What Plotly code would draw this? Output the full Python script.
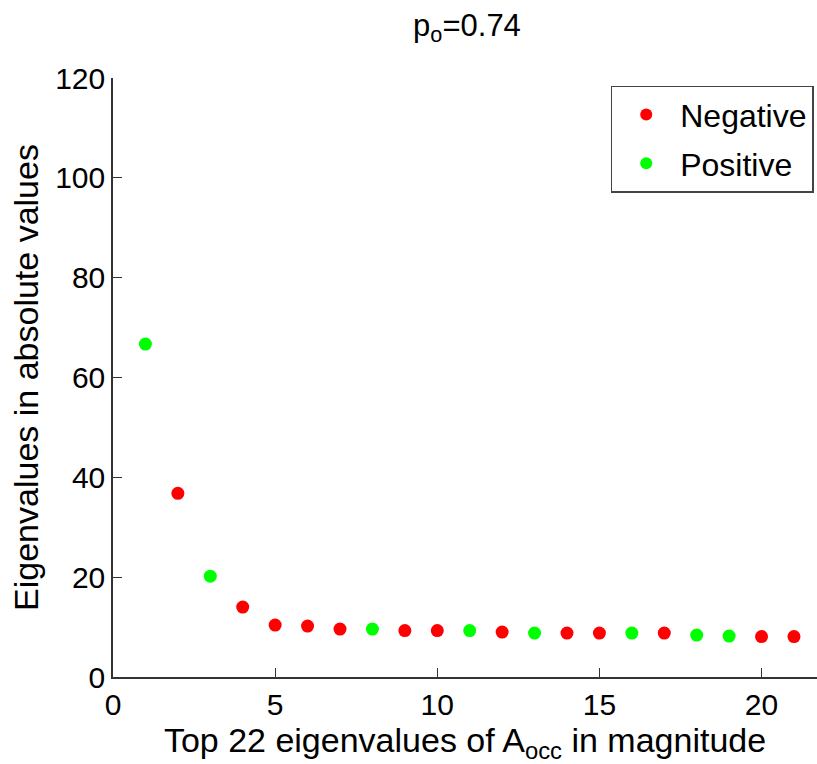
import plotly.graph_objects as go

# Top eigenvalues of A_occ ranked by magnitude, with the sign of each
rank = list(range(1, 22))
magnitude = [66.7, 36.8, 20.2, 14.0, 10.4, 10.2, 9.6, 9.6, 9.3, 9.3, 9.3,
             9.0, 8.8, 8.8, 8.8, 8.8, 8.8, 8.4, 8.2, 8.1, 8.1]
sign = ["+", "-", "+", "-", "-", "-", "-", "+", "-", "-", "+",
        "-", "+", "-", "-", "+", "-", "+", "+", "-", "-"]

x_ticks = [0, 5, 10, 15, 20]
y_ticks = [0, 20, 40, 60, 80, 100, 120]

FONT = "Liberation Sans, Arial, Helvetica, sans-serif"

neg_x = [r for r, s in zip(rank, sign) if s == "-"]
neg_y = [m for m, s in zip(magnitude, sign) if s == "-"]
pos_x = [r for r, s in zip(rank, sign) if s == "+"]
pos_y = [m for m, s in zip(magnitude, sign) if s == "+"]

fig = go.Figure()
fig.add_trace(go.Scatter(x=neg_x, y=neg_y, mode="markers", name="Negative",
                         legendgroup="neg",
                         marker=dict(color="#ff0000", size=13, line=dict(width=0))))
fig.add_trace(go.Scatter(x=pos_x, y=pos_y, mode="markers", name="Positive",
                         legendgroup="pos",
                         marker=dict(color="#00ff00", size=13, line=dict(width=0))))

axis_common = dict(
    showgrid=False, zeroline=False, showline=True, linecolor="#333333",
    linewidth=1.5, ticks="inside", ticklen=9, tickwidth=1.2,
    tickcolor="#333333", mirror=False,
    tickfont=dict(family=FONT, size=30, color="black"),
)

fig.update_layout(
    width=817, height=764,
    margin=dict(l=113, r=0, t=78, b=87),
    paper_bgcolor="white", plot_bgcolor="white",
    font=dict(family=FONT, size=30, color="black"),
    title=dict(text="p<sub>o</sub>=0.74", x=467 / 817, xanchor="center",
               y=1 - 25 / 764, yanchor="middle",
               font=dict(family=FONT, size=31, color="black")),
    xaxis=dict(range=[0, 21.71], tickvals=x_ticks,
               title=dict(text="Top 22 eigenvalues of A<sub>occ</sub> in magnitude",
                          font=dict(family=FONT, size=34), standoff=0),
               **axis_common),
    yaxis=dict(range=[0, 120], tickvals=y_ticks,
               title=dict(text="Eigenvalues in absolute values",
                          font=dict(family=FONT, size=34), standoff=6),
               **axis_common),
    legend=dict(x=0.707, y=0.987, xanchor="left", yanchor="top",
                bordercolor="#444444", borderwidth=1.5, bgcolor="white",
                font=dict(family=FONT, size=32), traceorder="grouped",
                tracegroupgap=4, itemwidth=58, itemsizing="constant"),
    showlegend=True,
)

fig.write_html("out.html")
